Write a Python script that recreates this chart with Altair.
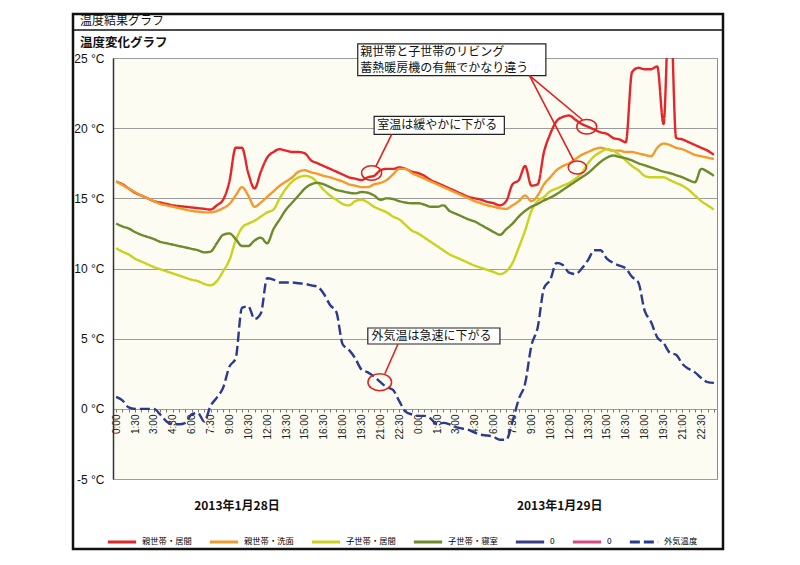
import altair as alt
import pandas as pd

# ---------------- data ----------------
time_labels = [f"{h}:{m:02d}" for h in range(24) for m in (0, 30)] * 2

series_names = ["親世帯・居間", "親世帯・洗面", "子世帯・居間", "子世帯・寝室", "0a", "0b", "外気温度"]
series_colors = ["#e3262a", "#f39a2c", "#c9d21f", "#6e8a2c", "#3b3d8c", "#d9487f", "#2b3a8e"]

oya_ima = [16.2,16.0,15.7,15.4,15.2,15.0,14.8,14.7,14.6,14.5,14.45,14.4,14.35,14.3,14.25,14.2,14.5,14.9,16.2,18.6,18.6,16.8,15.7,16.9,
           17.9,18.3,18.5,18.4,18.3,18.3,18.2,17.7,17.5,17.3,17.1,16.9,16.7,16.5,16.4,16.3,16.5,16.6,17.0,17.1,17.1,17.2,17.1,16.9,
           16.8,16.6,16.3,16.1,15.9,15.7,15.5,15.3,15.1,15.0,14.9,14.75,14.65,14.5,14.8,16.0,16.3,17.3,15.9,16.0,18.3,19.6,20.5,20.8,
           20.9,20.6,20.3,20.1,19.9,19.7,19.6,19.3,19.2,19.0,24.0,24.3,24.2,24.2,24.4,20.3,30.0,19.3,19.2,19.0,18.8,18.6,18.4,18.1]
oya_senmen = [16.2,15.95,15.7,15.45,15.2,15.0,14.8,14.6,14.5,14.4,14.3,14.2,14.1,14.05,14.0,14.0,14.1,14.3,14.6,15.2,15.8,15.2,14.4,14.7,
              15.1,15.5,15.9,16.2,16.5,16.9,17.0,16.85,16.75,16.6,16.5,16.35,16.2,16.0,15.9,15.8,15.8,16.0,16.1,16.3,16.7,17.1,17.1,16.8,
              16.6,16.4,16.2,16.0,15.8,15.6,15.4,15.2,15.0,14.8,14.65,14.5,14.4,14.3,14.25,14.5,14.8,15.2,14.8,15.2,16.0,16.5,17.0,17.3,
              17.5,17.8,18.1,18.3,18.5,18.6,18.5,18.4,18.4,18.3,18.3,18.2,18.1,18.0,18.6,18.9,18.8,18.6,18.5,18.3,18.1,18.0,17.9,17.8]
ko_ima = [11.45,11.2,11.0,10.7,10.5,10.3,10.1,9.95,9.8,9.65,9.5,9.35,9.2,9.1,8.9,8.8,9.1,9.8,10.6,12.0,12.9,13.2,13.4,13.7,
          14.0,14.2,15.0,15.7,16.2,16.5,16.6,16.5,16.1,15.6,15.2,14.9,14.6,14.5,14.8,14.9,14.7,14.4,14.2,14.0,13.7,13.5,13.1,12.7,
          12.5,12.2,11.9,11.6,11.3,11.0,10.8,10.6,10.4,10.2,10.05,9.9,9.75,9.6,9.8,10.4,11.5,12.7,14.1,14.8,15.1,15.5,15.7,15.9,
          16.1,16.4,16.8,17.5,18.0,18.3,18.5,18.4,18.1,17.7,17.3,17.0,16.6,16.5,16.5,16.5,16.3,16.1,15.9,15.6,15.2,14.8,14.5,14.2]
ko_shinshitsu = [13.2,13.0,12.85,12.6,12.4,12.25,12.1,11.9,11.8,11.7,11.6,11.5,11.4,11.3,11.15,11.2,11.8,12.4,12.5,12.1,11.6,11.6,12.0,12.2,
                 11.8,12.8,13.5,14.2,14.7,15.2,15.7,16.0,16.1,16.0,15.8,15.6,15.5,15.4,15.35,15.45,15.4,15.2,14.9,15.0,14.95,14.8,14.7,14.65,
                 14.65,14.55,14.4,14.4,14.5,14.1,13.9,13.7,13.5,13.35,13.1,12.85,12.6,12.4,12.8,13.2,13.7,14.1,14.4,14.6,14.85,15.05,15.3,15.6,
                 15.9,16.2,16.5,16.8,17.2,17.6,17.9,18.05,17.95,17.85,17.7,17.5,17.35,17.2,17.05,16.9,16.8,16.65,16.5,16.3,16.15,17.1,16.9,16.6]
gaiki = [0.85,0.6,0.1,0.0,0.0,0.0,0.0,-0.4,-0.9,-1.1,-1.1,-1.0,-0.4,-0.3,-0.9,0.2,0.8,1.5,3.0,3.6,7.2,7.3,6.4,6.8,
         9.3,9.2,9.0,9.0,9.0,8.95,8.9,8.8,8.7,8.2,7.4,6.9,4.6,4.2,3.6,2.8,2.6,2.3,1.9,1.55,1.35,0.55,-0.2,-0.4,
         -0.5,-0.5,-0.7,-1.1,-1.0,-1.1,-1.3,-1.4,-1.5,-1.7,-1.85,-1.9,-2.0,-2.2,-2.2,-0.9,0.7,1.8,4.5,5.8,8.6,9.2,10.4,10.25,
         9.7,9.6,10.0,10.6,11.3,11.3,10.7,10.4,10.2,10.0,9.4,9.0,7.0,6.2,5.1,4.7,4.0,3.85,3.2,2.85,2.6,2.2,1.9,1.85]

y_ticks = [-5, 0, 5, 10, 15, 20, 25]

date_labels = ["2013年1月28日", "2013年1月29日"]
date_label_x = [19.2, 70.5]

# annotations (data units: x = half-hour index, y = °C)
box_x1 = [38.4, 41.0, 40.0]
box_x2 = [68.3, 61.7, 61.0]
box_y1 = [26.0, 20.84, 5.76]
box_y2 = [23.75, 19.56, 4.62]

note_texts = ["親世帯と子世帯のリビング", "蓄熱暖房機の有無でかなり違う", "室温は緩やかに下がる", "外気温は急速に下がる"]
note_x = [38.8, 38.8, 41.5, 40.6]
note_y = [25.4, 24.3, 20.2, 5.18]

link_x1 = [65.7, 65.7, 43.8, 44.8]
link_y1 = [23.75, 23.75, 19.56, 4.62]
link_x2 = [74.1, 72.7, 41.3, 42.7]
link_y2 = [20.6, 17.7, 17.3, 2.5]

ring_x = [74.8, 73.3, 40.6, 41.9]
ring_y = [20.1, 17.2, 16.8, 1.9]
ring_size = [400, 330, 400, 560]

# ---------------- frames ----------------
rows = []
for name, vals in [("親世帯・居間", oya_ima), ("親世帯・洗面", oya_senmen), ("子世帯・居間", ko_ima),
                   ("子世帯・寝室", ko_shinshitsu), ("外気温度", gaiki)]:
    for i, v in enumerate(vals):
        rows.append({"i": i, "t": time_labels[i], "temp": v, "series": name})
lines_df = pd.DataFrame(rows)

xdom = [-0.5, 95.5]
ydom = [-5, 25]
W, H = 604, 421
FONT = "Noto Sans CJK JP"

xs = alt.Scale(domain=xdom, nice=False, zero=False)
ys = alt.Scale(domain=ydom, nice=False, zero=False)

label_expr = ("datum.value % 3 == 0 ? (floor((datum.value % 48) / 2) + ':' + "
              "(datum.value % 2 == 0 ? '00' : '30')) : ''")

x_axis = alt.Axis(values=list(range(96)), labelExpr=label_expr, labelAngle=270,
                  labelOverlap=False, labelFlush=False, offset=-70, domain=False,
                  grid=False, tickSize=3, tickColor="#777", labelFontSize=10,
                  labelFont="Liberation Sans", labelColor="#222", labelPadding=2, title=None)
y_axis = alt.Axis(values=y_ticks, labelExpr="datum.value + ' °C'", grid=True,
                  gridColor="#9c9c9c", gridWidth=1, ticks=False, domainColor="#333",
                  domainWidth=1.5, labelFontSize=12, labelFont="Liberation Sans",
                  labelColor="#111", labelPadding=9, title=None)


def X(f):
    return alt.X(f, scale=xs, axis=x_axis)


def Y(f):
    return alt.Y(f, scale=ys, axis=y_axis)


lines = alt.Chart(lines_df).mark_line(strokeWidth=2.4, clip=True, interpolate="monotone").encode(
    x=X("i:Q"),
    y=Y("temp:Q"),
    color=alt.Color("series:N", scale=alt.Scale(domain=series_names, range=series_colors),
                    legend=alt.Legend(orient="none", legendX=-7, legendY=468, direction="horizontal",
                                      columns=7, gridAlign="none", title=None, symbolType="stroke",
                                      symbolSize=800, symbolStrokeWidth=3, labelFontSize=8.3,
                                      labelFont=FONT, labelOffset=4, columnPadding=11,
                                      labelExpr="slice(datum.label, 0, 1) == '0' ? '0' : datum.label")),
    strokeDash=alt.StrokeDash("series:N", scale=alt.Scale(domain=series_names,
                              range=[[1, 0]] * 6 + [[10, 4]]), legend=None),
    order=alt.Order("i:Q"),
)

one = alt.Data(values=[{"a": 1}])

frame = alt.Chart(one).mark_rect(filled=False, stroke="#111", strokeWidth=2.5).encode(
    x=alt.value(-40), x2=alt.value(610), y=alt.value(-44), y2=alt.value(491))
header_line = alt.Chart(one).mark_rule(stroke="#111", strokeWidth=1.5).encode(
    x=alt.value(-40), x2=alt.value(610), y=alt.value(-28))
header_text = alt.Chart(one).mark_text(text="温度結果グラフ", align="left", baseline="middle",
                                       font=FONT, fontSize=12, color="#111").encode(
    x=alt.value(-33), y=alt.value(-37))
title_text = alt.Chart(one).mark_text(text="温度変化グラフ", align="left", baseline="middle",
                                      font=FONT, fontSize=12.5, fontWeight="bold", color="#111").encode(
    x=alt.value(-33), y=alt.value(-15))

dates = alt.Chart(pd.DataFrame({"x": date_label_x, "label": date_labels})).mark_text(
    font=FONT, fontSize=12, fontWeight="bold", color="#111", baseline="middle").encode(
    x=X("x:Q"), y=alt.value(448), text="label:N")

boxes = alt.Chart(pd.DataFrame({"x1": box_x1, "x2": box_x2, "y1": box_y1, "y2": box_y2})).mark_rect(
    fill="white", stroke="#222", strokeWidth=1.2).encode(
    x=X("x1:Q"), x2="x2:Q", y=Y("y1:Q"), y2="y2:Q")

links = alt.Chart(pd.DataFrame({"x1": link_x1, "x2": link_x2, "y1": link_y1, "y2": link_y2})).mark_rule(
    stroke="#e0201e", strokeWidth=1.6).encode(
    x=X("x1:Q"), x2="x2:Q", y=Y("y1:Q"), y2="y2:Q")

ellipse = "M-1,0A1,0.72,0,1,1,1,0A1,0.72,0,1,1,-1,0Z"
rings = alt.Chart(pd.DataFrame({"x": ring_x, "y": ring_y, "s": ring_size})).mark_point(
    shape=ellipse, filled=False, stroke="#e0201e", strokeWidth=1.5, opacity=1).encode(
    x=X("x:Q"), y=Y("y:Q"), size=alt.Size("s:Q", scale=None, legend=None))

notes = alt.Chart(pd.DataFrame({"x": note_x, "y": note_y, "t": note_texts})).mark_text(
    align="left", baseline="middle", font=FONT, fontSize=12, color="#111").encode(
    x=X("x:Q"), y=Y("y:Q"), text="t:N")

chart = alt.layer(lines, frame, header_line, header_text, title_text, dates,
                  boxes, links, rings, notes).properties(
    width=W, height=H,
    padding={"left": 105, "top": 50, "right": 70, "bottom": 74},
    autosize=alt.AutoSizeParams(type="none"),
    background="white",
).configure_view(stroke="#8c8c8c", fill="#fcfcf3")

chart.save("out.html", embed_options={"renderer": "svg", "actions": False})
